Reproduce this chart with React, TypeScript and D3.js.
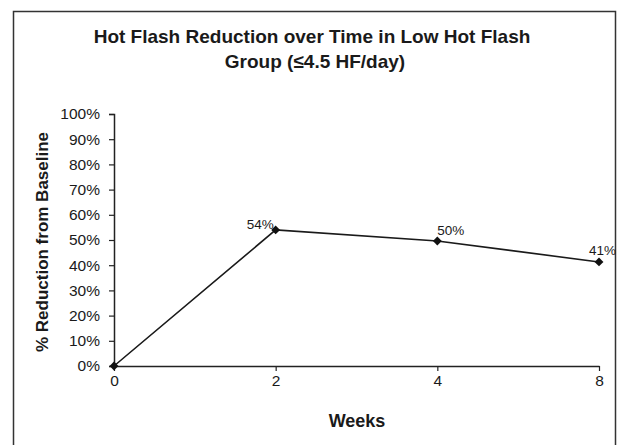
import React, { useRef, useEffect } from 'react';
import * as d3 from 'd3';

const weeks = ['0', '2', '4', '8'];
const reduction = [0, 54, 49.6, 41.3];
const pointLabels = ['', '54%', '50%', '41%'];
const yTicks = [0, 10, 20, 30, 40, 50, 60, 70, 80, 90, 100];

const W = 618;
const H = 445;
const FONT = '"Liberation Sans", Arial, sans-serif';

// label placement relative to its point: [dx, dy, anchor]
const labelPos: [number, number, string][] = [
  [0, 0, 'start'],
  [-2, -1, 'end'],
  [0, -6, 'start'],
  [-10, -7, 'start'],
];

export default function App() {
  const svgRef = useRef<SVGSVGElement>(null);

  useEffect(() => {
    if (!svgRef.current) return;
    const svg = d3.select(svgRef.current);
    svg.selectAll('*').remove();

    svg.append('rect').attr('width', W).attr('height', H).attr('fill', '#fff');

    // outer frame (bottom edge runs off the picture)
    svg.append('path')
      .attr('d', `M13.5,${H + 5}V11.5H615.5V${H + 5}`)
      .attr('fill', 'none').attr('stroke', '#333').attr('stroke-width', 1.5);

    const x = d3.scalePoint<string>().domain(weeks).range([114, 599]).padding(0);
    const y = d3.scaleLinear().domain([0, 100]).range([366, 114]);

    // title
    const title = svg.append('text')
      .attr('text-anchor', 'middle').attr('font-family', FONT)
      .attr('font-weight', 'bold').attr('font-size', '19px').attr('fill', '#1a1a1a');
    title.append('tspan').attr('x', 312).attr('y', 43).text('Hot Flash Reduction over Time in Low Hot Flash');
    title.append('tspan').attr('x', 315).attr('y', 68).text('Group (≤4.5 HF/day)');

    // y axis
    const yAxis = svg.append('g')
      .attr('transform', `translate(${x('0')},0)`)
      .call(d3.axisLeft(y).tickValues(yTicks).tickSize(5).tickPadding(9).tickFormat(d => `${d}%`));
    yAxis.select('.domain').attr('stroke', '#222').attr('stroke-width', 1.5);
    yAxis.selectAll('line').attr('stroke', '#222').attr('stroke-width', 1.2);
    yAxis.selectAll('text').attr('font-family', FONT).attr('font-size', '15.5px').attr('fill', '#1a1a1a');

    // x axis
    const xAxis = svg.append('g')
      .attr('transform', `translate(0,${y(0)})`)
      .call(d3.axisBottom(x).tickSize(5).tickPadding(4).tickSizeOuter(0));
    xAxis.select('.domain').attr('stroke', '#222').attr('stroke-width', 1.5);
    xAxis.selectAll('line').attr('stroke', '#222').attr('stroke-width', 1.2);
    xAxis.selectAll('text').attr('font-family', FONT).attr('font-size', '15.5px').attr('fill', '#1a1a1a');

    // axis titles
    svg.append('text')
      .attr('transform', `translate(48,${(y(0) + y(100)) / 2 + 2}) rotate(-90)`)
      .attr('text-anchor', 'middle').attr('font-family', FONT)
      .attr('font-weight', 'bold').attr('font-size', '17px').attr('fill', '#1a1a1a')
      .text('% Reduction from Baseline');
    svg.append('text')
      .attr('x', 357).attr('y', 427)
      .attr('text-anchor', 'middle').attr('font-family', FONT)
      .attr('font-weight', 'bold').attr('font-size', '18px').attr('fill', '#1a1a1a')
      .text('Weeks');

    // series line
    const line = d3.line<number>()
      .x((_, i) => x(weeks[i]) as number)
      .y(d => y(d));
    svg.append('path').datum(reduction)
      .attr('d', line)
      .attr('fill', 'none').attr('stroke', '#1a1a1a').attr('stroke-width', 1.6);

    // diamond markers
    const diamond = d3.symbol().type(d3.symbolDiamond2).size(50);
    svg.append('g').selectAll('path')
      .data(reduction)
      .join('path')
      .attr('d', diamond)
      .attr('transform', (d, i) => `translate(${x(weeks[i])},${y(d)})`)
      .attr('fill', '#111');

    // data labels
    svg.append('g').selectAll('text')
      .data(reduction)
      .join('text')
      .attr('x', (d, i) => (x(weeks[i]) as number) + labelPos[i][0])
      .attr('y', (d, i) => y(d) + labelPos[i][1])
      .attr('text-anchor', (d, i) => labelPos[i][2])
      .attr('font-family', FONT).attr('font-size', '13.5px').attr('fill', '#1a1a1a')
      .text((d, i) => pointLabels[i]);
  }, []);

  return (
    <svg ref={svgRef} width={W} height={H}
      style={{ display: 'block', position: 'absolute', left: 0, top: 0 }} />
  );
}
